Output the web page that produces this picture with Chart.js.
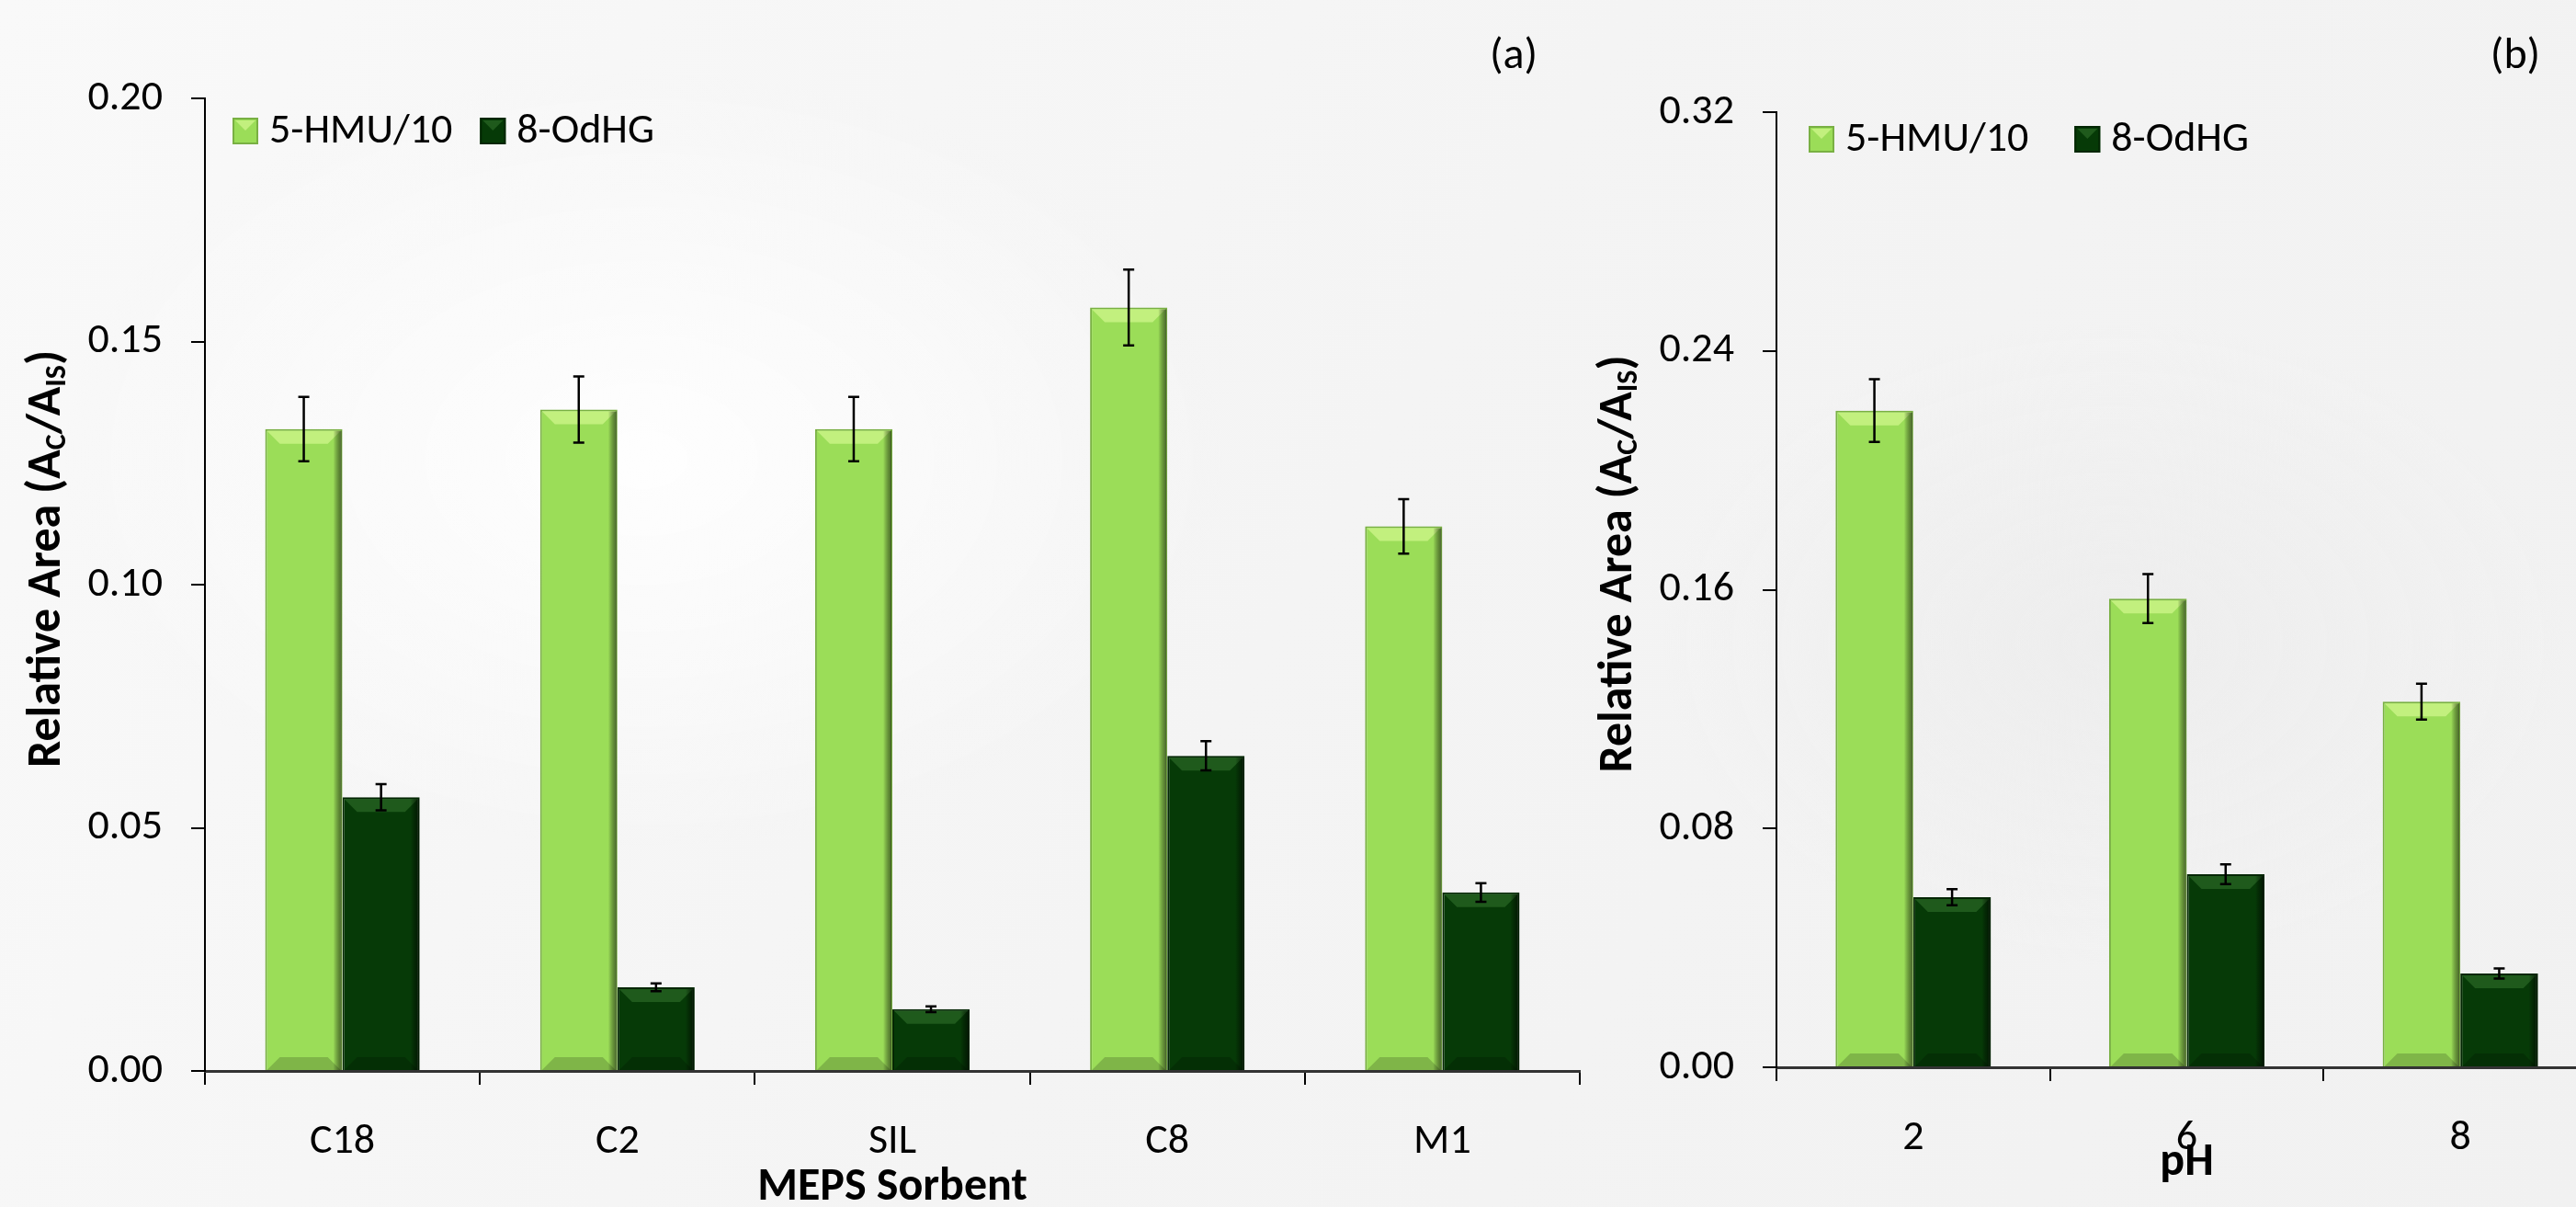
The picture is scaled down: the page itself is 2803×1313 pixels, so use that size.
<!DOCTYPE html>
<html>
<head>
<meta charset="utf-8">
<script src="https://cdn.jsdelivr.net/npm/chart.js@4.4.1/dist/chart.umd.min.js"></script>
<style>
  html, body { margin: 0; padding: 0; width: 2803px; height: 1313px; overflow: hidden; }
  body {
    background:
      radial-gradient(ellipse 900px 600px at 700px 500px, rgba(255,255,255,0.9), rgba(255,255,255,0) 70%),
      radial-gradient(ellipse 700px 500px at 2300px 700px, rgba(236,236,236,0.8), rgba(236,236,236,0) 70%),
      linear-gradient(120deg, #f9f9f9 0%, #f4f4f4 50%, #f1f1f1 100%);
  }
  .box { position: absolute; top: 0; height: 1313px; }
  #boxA { left: 0; width: 1760px; }
  #boxB { left: 1700px; width: 1200px; }
</style>
</head>
<body>
<div class="box" id="boxA"><canvas id="chartA"></canvas></div>
<div class="box" id="boxB"><canvas id="chartB"></canvas></div>
<script>
const FONT = "Carlito, Calibri, Lato, 'Noto Sans', sans-serif";

// series names + colours
const seriesLabels = ['5-HMU/10', '8-OdHG'];
const barColors = ['#9bdd58', '#063a07'];
const barEdges = ['#79b043', '#032603'];
const bevelLight = ['#c2f07e', '#1f5a1c'];
const bevelDark = ['rgba(40,60,20,0.75)', 'rgba(0,15,0,0.8)'];

// (a) MEPS sorbent
const sorbents = ['C18', 'C2', 'SIL', 'C8', 'M1'];
const hmuSorbent = [0.132, 0.136, 0.132, 0.157, 0.112];
const hmuSorbentErr = [0.0066, 0.0068, 0.0066, 0.0078, 0.0056];
const odhgSorbent = [0.0563, 0.0172, 0.0127, 0.0648, 0.0367];
const odhgSorbentErr = [0.0027, 0.0008, 0.0006, 0.0030, 0.0019];
const yTicksA = [0, 0.05, 0.10, 0.15, 0.20];

// (b) pH
const phLevels = ['2', '6', '8'];
const hmuPh = [0.220, 0.157, 0.1225];
const hmuPhErr = [0.0105, 0.0082, 0.0060];
const odhgPh = [0.057, 0.0647, 0.0314];
const odhgPhErr = [0.0027, 0.0033, 0.0017];
const yTicksB = [0, 0.08, 0.16, 0.24, 0.32];

Chart.defaults.font.family = FONT;
Chart.defaults.color = '#000';

// excel-like bevel on each bar, then error bars on top
const barBevel = {
  id: 'barBevel',
  afterDatasetsDraw(chart) {
    const {ctx} = chart;
    ctx.save();
    chart.data.datasets.forEach((ds, i) => {
      chart.getDatasetMeta(i).data.forEach(bar => {
        const l = bar.x - bar.width / 2, r = bar.x + bar.width / 2;
        const t = bar.y, b = bar.base;
        const d = Math.min(14, (b - t) / 3);
        // top facet
        ctx.fillStyle = bevelLight[i];
        ctx.beginPath();
        ctx.moveTo(l + 2, t + 2); ctx.lineTo(r - 2, t + 2);
        ctx.lineTo(r - 2 - d, t + 2 + d); ctx.lineTo(l + 2 + d, t + 2 + d);
        ctx.closePath(); ctx.fill();
        // right shadow
        const g = ctx.createLinearGradient(r - 10, 0, r, 0);
        g.addColorStop(0, 'rgba(0,0,0,0)');
        g.addColorStop(1, bevelDark[i]);
        ctx.fillStyle = g;
        ctx.fillRect(r - 10, t + 2, 9, b - t - 2);
        // bottom facet
        ctx.fillStyle = 'rgba(0,0,0,0.18)';
        ctx.beginPath();
        ctx.moveTo(l + 2, b); ctx.lineTo(r - 2, b);
        ctx.lineTo(r - 2 - d, b - d); ctx.lineTo(l + 2 + d, b - d);
        ctx.closePath(); ctx.fill();
      });
    });
    ctx.restore();
  }
};

const errorBars = {
  id: 'errorBars',
  afterDatasetsDraw(chart) {
    const {ctx} = chart;
    const yScale = chart.scales.y;
    ctx.save();
    ctx.strokeStyle = '#000';
    ctx.lineWidth = 2.5;
    chart.data.datasets.forEach((ds, i) => {
      const meta = chart.getDatasetMeta(i);
      meta.data.forEach((bar, j) => {
        const v = ds.data[j], e = ds.errors[j];
        const yt = yScale.getPixelForValue(v + e);
        const yb = yScale.getPixelForValue(v - e);
        ctx.beginPath();
        ctx.moveTo(bar.x, yt); ctx.lineTo(bar.x, yb);
        ctx.moveTo(bar.x - 6, yt); ctx.lineTo(bar.x + 6, yt);
        ctx.moveTo(bar.x - 6, yb); ctx.lineTo(bar.x + 6, yb);
        ctx.stroke();
      });
    });
    ctx.restore();
  }
};

// rotated y title with subscripts
const drawYTitle = (ctx, cx, cy, size) => {
  const parts = [['Relative Area (A', false], ['C', true], ['/A', false], ['IS', true], [')', false]];
  const big = `bold ${size}px ${FONT}`;
  const small = `bold ${Math.round(size * 0.62)}px ${FONT}`;
  ctx.save();
  ctx.translate(cx, cy);
  ctx.rotate(-Math.PI / 2);
  let total = 0;
  parts.forEach(([t, sub]) => { ctx.font = sub ? small : big; total += ctx.measureText(t).width; });
  let x = -total / 2;
  ctx.textAlign = 'left';
  ctx.textBaseline = 'middle';
  ctx.fillStyle = '#000';
  parts.forEach(([t, sub]) => {
    ctx.font = sub ? small : big;
    ctx.fillText(t, x, sub ? size * 0.22 : 0);
    x += ctx.measureText(t).width;
  });
  ctx.restore();
};

const panelDecor = {
  id: 'panelDecor',
  afterDraw(chart, args, opts) {
    const {ctx, chartArea: a} = chart;
    ctx.save();
    // legend
    ctx.font = `${opts.fontSize}px ${FONT}`;
    ctx.textBaseline = 'middle';
    ctx.textAlign = 'left';
    let x = a.left + opts.legendX;
    const y = a.top + opts.legendY;
    chart.data.datasets.forEach((ds, i) => {
      ctx.fillStyle = ds.backgroundColor;
      ctx.fillRect(x, y, 28, 29);
      ctx.fillStyle = bevelLight[i];
      ctx.beginPath();
      ctx.moveTo(x + 3, y + 3); ctx.lineTo(x + 25, y + 3); ctx.lineTo(x + 14, y + 14);
      ctx.closePath(); ctx.fill();
      ctx.strokeStyle = ds.borderColor;
      ctx.lineWidth = 2;
      ctx.strokeRect(x + 1, y + 1, 26, 27);
      ctx.fillStyle = '#000';
      ctx.fillText(ds.label, x + 40, y + 15);
      x += 40 + ctx.measureText(ds.label).width + opts.legendGap;
    });
    // x title
    ctx.font = `bold ${opts.titleSize}px ${FONT}`;
    ctx.textAlign = 'center';
    ctx.fillText(opts.xTitle, (a.left + a.right) / 2, a.bottom + opts.xTitleDy);
    // panel tag
    ctx.font = `${opts.fontSize + 2}px ${FONT}`;
    ctx.fillText(opts.tag, opts.tagX, 62);
    ctx.restore();
    drawYTitle(ctx, a.left - 171, (a.top + a.bottom) / 2 - 28, opts.yTitleSize);
  }
};

const makeChart = (id, labels, sets, errs, yTicks, cfg) => new Chart(document.getElementById(id), {
  type: 'bar',
  data: {
    labels: labels,
    datasets: sets.map((data, i) => ({
      label: seriesLabels[i],
      data: data,
      errors: errs[i],
      backgroundColor: barColors[i],
      borderColor: barEdges[i],
      borderWidth: 2,
      borderSkipped: 'bottom',
      categoryPercentage: cfg.catPct,
      barPercentage: 1
    }))
  },
  options: {
    responsive: true,
    maintainAspectRatio: false,
    animation: false,
    layout: { padding: { top: cfg.top, right: cfg.right, left: 0, bottom: 0 } },
    plugins: {
      legend: { display: false },
      tooltip: { enabled: false },
      panelDecor: cfg
    },
    scales: {
      x: {
        grid: { offset: true, drawOnChartArea: false, tickLength: 15, color: '#000', lineWidth: 2 },
        border: { color: '#333', width: 3 },
        ticks: { font: { size: cfg.fontSize }, padding: 35, color: '#000' },
        afterFit: s => { s.height = cfg.xHeight; }
      },
      y: {
        min: yTicks[0],
        max: yTicks[yTicks.length - 1],
        afterBuildTicks: s => { s.ticks = yTicks.map(v => ({ value: v })); },
        ticks: { font: { size: cfg.fontSize }, padding: 31, color: '#000', callback: v => Number(v).toFixed(2) },
        grid: { drawOnChartArea: false, tickLength: 15, color: '#000', lineWidth: 2 },
        border: { color: '#000', width: 2 },
        afterFit: s => { s.width = cfg.yWidth; }
      }
    }
  },
  plugins: [barBevel, errorBars, panelDecor]
});

makeChart('chartA', sorbents, [hmuSorbent, odhgSorbent], [hmuSorbentErr, odhgSorbentErr], yTicksA, {
  top: 107, right: 41, yWidth: 223, xHeight: 148, catPct: 0.562,
  fontSize: 46, titleSize: 50, yTitleSize: 52, legendX: 30, legendY: 21, legendGap: 30,
  xTitle: 'MEPS Sorbent', xTitleDy: 127, tag: '(a)', tagX: 1647
});

makeChart('chartB', phLevels, [hmuPh, odhgPh], [hmuPhErr, odhgPhErr], yTicksB, {
  top: 122, right: 74, yWidth: 233, xHeight: 152, catPct: 0.568,
  fontSize: 46, titleSize: 50, yTitleSize: 52, legendX: 35, legendY: 15, legendGap: 50,
  xTitle: 'pH', xTitleDy: 104, tag: '(b)', tagX: 1037
});
</script>
</body>
</html>
